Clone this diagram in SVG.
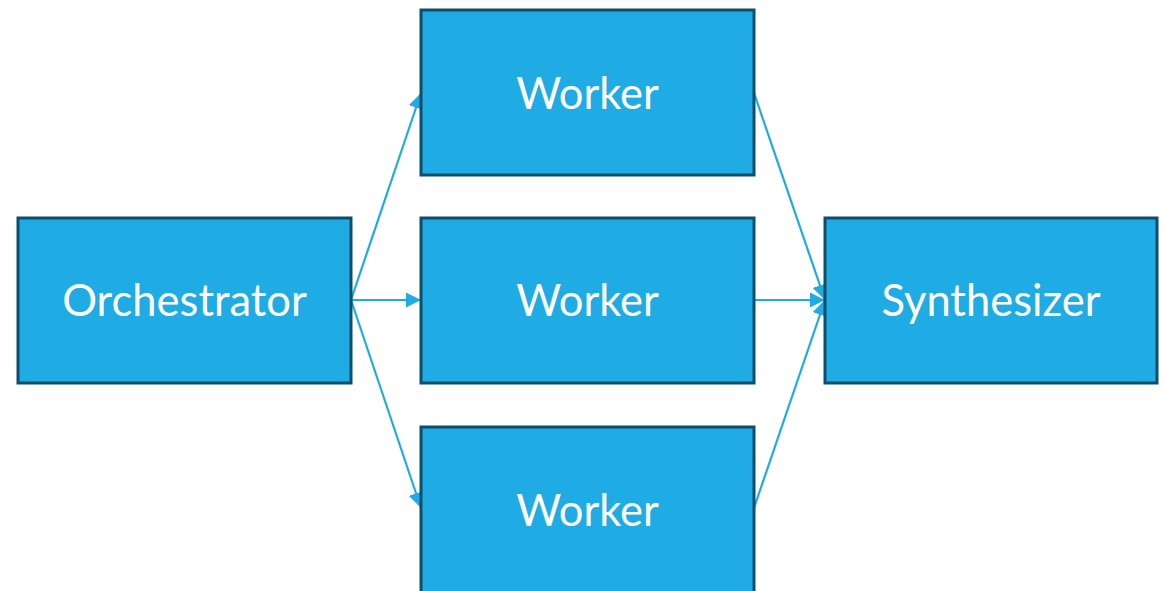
<svg xmlns="http://www.w3.org/2000/svg" width="1165" height="591" viewBox="0 0 1165 591">
<defs>
<style>
.box{fill:#1FABE3;stroke:#0C4E6B;stroke-width:3}
.lbl{fill:#FFFFFF;font-family:Lato,"Open Sans",sans-serif;font-size:43.5px;text-anchor:middle}
.conn{stroke:#1FABE3;stroke-width:2.2;fill:none;marker-end:url(#ah)}
</style>
<marker id="ah" viewBox="0 0 10 10" refX="10" refY="5" markerWidth="7" markerHeight="7" markerUnits="strokeWidth" orient="auto">
<path d="M0,0 L10,5 L0,10 z" fill="#1FABE3"/>
</marker>
</defs>
<rect width="1165" height="591" fill="#FFFFFF"/>
<g id="connectors">
<line class="conn" x1="351" y1="300" x2="421" y2="93"/>
<line class="conn" x1="351" y1="300" x2="421" y2="300"/>
<line class="conn" x1="351" y1="300" x2="421" y2="508"/>
<line class="conn" x1="754" y1="93" x2="825" y2="300"/>
<line class="conn" x1="754" y1="300" x2="825" y2="300"/>
<line class="conn" x1="754" y1="508" x2="825" y2="300"/>
</g>
<g id="orchestrator">
<rect class="box" x="18" y="218" width="333" height="165"/>
<text class="lbl" x="184.5" y="316">Orchestrator</text>
</g>
<g id="worker1">
<rect class="box" x="421" y="10" width="333" height="165"/>
<text class="lbl" x="587.5" y="109">Worker</text>
</g>
<g id="worker2">
<rect class="box" x="421" y="218" width="333" height="165"/>
<text class="lbl" x="587.5" y="316">Worker</text>
</g>
<g id="worker3">
<rect class="box" x="421" y="427" width="333" height="170"/>
<text class="lbl" x="587.5" y="526">Worker</text>
</g>
<g id="synthesizer">
<rect class="box" x="825" y="218" width="332" height="165"/>
<text class="lbl" x="991" y="316">Synthesizer</text>
</g>
</svg>
